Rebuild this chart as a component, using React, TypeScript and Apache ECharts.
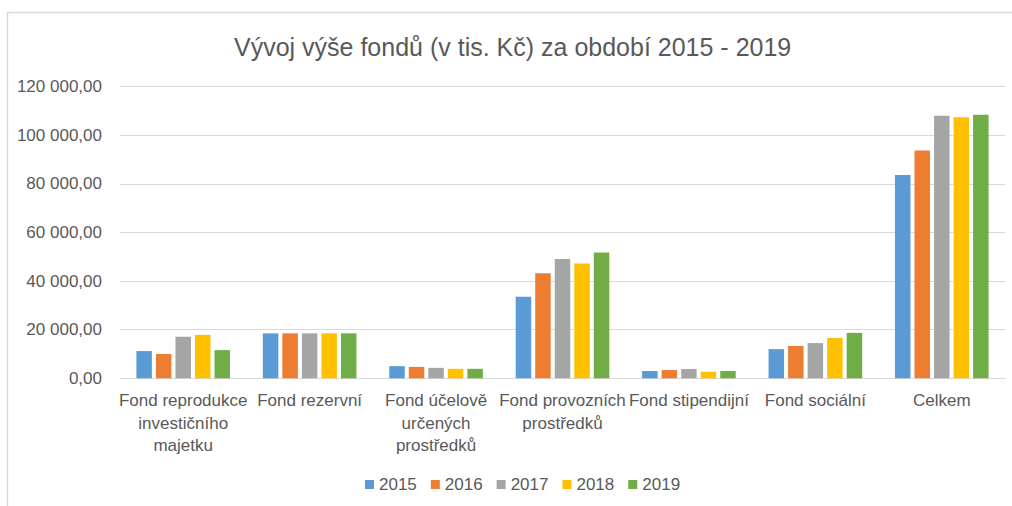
import React, { useEffect, useRef } from "react";
import * as echarts from "echarts";

const categories = [
  "Fond reprodukce investičního majetku",
  "Fond rezervní",
  "Fond účelově určených prostředků",
  "Fond provozních prostředků",
  "Fond stipendijní",
  "Fond sociální",
  "Celkem",
];
const wrappedLabels: Record<string, string> = {
  "Fond reprodukce investičního majetku": "Fond reprodukce\ninvestičního\nmajetku",
  "Fond účelově určených prostředků": "Fond účelově\nurčených\nprostředků",
  "Fond provozních prostředků": "Fond provozních\nprostředků",
};
const years = ["2015", "2016", "2017", "2018", "2019"];
const v2015 = [11200, 18500, 5000, 33600, 3000, 12000, 83700];
const v2016 = [10000, 18500, 4700, 43200, 3400, 13300, 93700];
const v2017 = [17100, 18500, 4300, 49100, 3800, 14500, 108000];
const v2018 = [17900, 18500, 3900, 47200, 2700, 16600, 107400];
const v2019 = [11600, 18500, 3900, 51800, 3000, 18700, 108500];
const seriesValues = [v2015, v2016, v2017, v2018, v2019];
const colors = ["#5B9BD5", "#ED7D31", "#A5A5A5", "#FFC000", "#70AD47"];
const yMin = 0;
const yMax = 120000;
const yStep = 20000;

const FONT = "'Liberation Sans', Arial, sans-serif";
const TXT = "#595959";

function fmt(v: number): string {
  const s = Math.round(v).toString().replace(/\B(?=(\d{3})+(?!\d))/g, " ");
  return s + ",00";
}

export default function App() {
  const ref = useRef<HTMLDivElement>(null);
  useEffect(() => {
    if (!ref.current) return;
    const chart = echarts.init(ref.current, undefined, { renderer: "svg" });
    chart.setOption({
      animation: false,
      backgroundColor: "#ffffff",
      textStyle: { fontFamily: FONT },
      title: {
        text: "Vývoj výše fondů (v tis. Kč) za období 2015 - 2019",
        left: 229,
        top: 29,
        textStyle: { fontFamily: FONT, fontSize: 25, fontWeight: "normal", color: TXT },
      },
      legend: {
        data: years,
        bottom: 8,
        left: 360,
        itemWidth: 9,
        itemHeight: 9,
        itemGap: 14,
        icon: "rect",
        textStyle: { fontFamily: FONT, fontSize: 17, color: TXT },
      },
      grid: { left: 120, right: 7, top: 86.7, bottom: 127.7, containLabel: false },
      xAxis: {
        type: "category",
        data: categories,
        axisLine: { lineStyle: { color: "#D9D9D9", width: 1 } },
        axisTick: { show: false },
        axisLabel: {
          interval: 0,
          margin: 11,
          fontFamily: FONT,
          fontSize: 17,
          lineHeight: 22.5,
          color: TXT,
          formatter: (v: string) => wrappedLabels[v] ?? v,
        },
      },
      yAxis: {
        type: "value",
        min: yMin,
        max: yMax,
        interval: yStep,
        axisLine: { show: false },
        axisTick: { show: false },
        splitLine: { lineStyle: { color: "#D9D9D9", width: 1 } },
        axisLabel: {
          margin: 18,
          fontFamily: FONT,
          fontSize: 17,
          color: TXT,
          formatter: (v: number) => fmt(v),
        },
      },
      graphic: [
        {
          type: "polyline",
          shape: { points: [[7.5, 520], [7.5, 12.5], [1020, 12.5]] },
          style: { stroke: "#D9D9D9", lineWidth: 1.5, fill: "none" },
          silent: true,
        },
      ],
      series: years.map((y, i) => ({
        name: y,
        type: "bar",
        data: seriesValues[i],
        barWidth: 15.5,
        barGap: "26%",
        itemStyle: { color: colors[i] },
      })),
    });
    return () => chart.dispose();
  }, []);
  return (
    <div
      ref={ref}
      style={{ position: "fixed", left: 0, top: 0, width: 1012, height: 506, background: "#fff" }}
    />
  );
}
